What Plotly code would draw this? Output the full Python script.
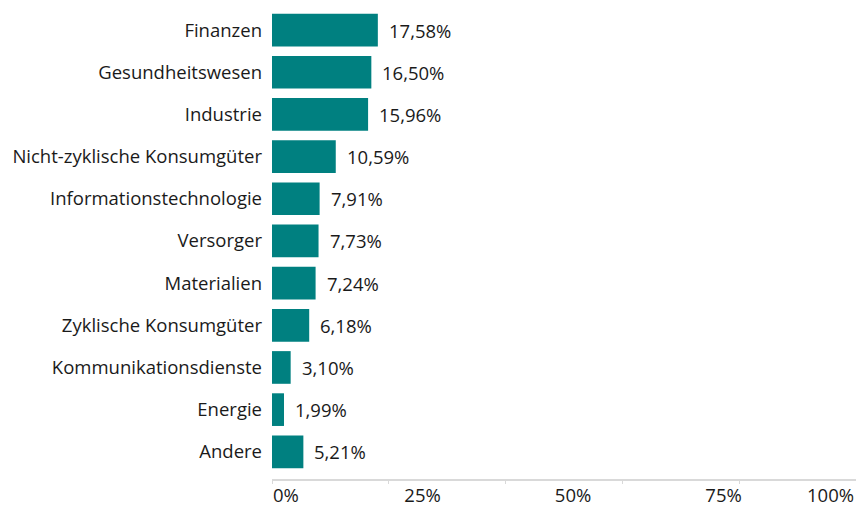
import plotly.graph_objects as go

# Sector weights in percent
sectors = [
    "Finanzen",
    "Gesundheitswesen",
    "Industrie",
    "Nicht-zyklische Konsumgüter",
    "Informationstechnologie",
    "Versorger",
    "Materialien",
    "Zyklische Konsumgüter",
    "Kommunikationsdienste",
    "Energie",
    "Andere",
]
weights = [17.58, 16.50, 15.96, 10.59, 7.91, 7.73, 7.24, 6.18, 3.10, 1.99, 5.21]

tick_values = [0, 25, 50, 75, 100]
tick_labels = ["0%", "25%", "50%", "75%", "100%"]

FONT = "Open Sans"
FS = 18.5
TEXT = "#1a1a1a"
BAR = "#008080"
AXIS = "#d9d9d9"

shares = [w / 100 for w in weights]
value_text = [f"{w:.2f}".replace(".", ",") + "%" for w in weights]

fig = go.Figure(
    go.Bar(
        x=shares,
        y=sectors,
        orientation="h",
        marker=dict(color=BAR, line=dict(width=0)),
        hoverinfo="skip",
    )
)

# value labels right of each bar
for s, cat, txt in zip(shares, sectors, value_text):
    fig.add_annotation(
        x=s, y=cat, text=txt, showarrow=False,
        xanchor="left", yanchor="middle", xshift=9,
        font=dict(family=FONT, size=FS, color=TEXT),
    )

x_max = 0.97
inner_vals = [v / 100 for v in tick_values[1:-1]]
inner_text = tick_labels[1:-1]

# edge labels are pulled inward so they stay inside the plot width
fig.add_annotation(
    x=tick_values[0] / 100, xref="x", y=0, yref="paper", yshift=-15,
    text=tick_labels[0], showarrow=False, xanchor="left", yanchor="middle",
    borderpad=0, font=dict(family=FONT, size=FS, color=TEXT),
)
fig.add_annotation(
    x=1, xref="paper", y=0, yref="paper", yshift=-15, xshift=-1,
    text=tick_labels[-1], showarrow=False, xanchor="right", yanchor="middle",
    borderpad=0, font=dict(family=FONT, size=FS, color=TEXT),
)

fig.update_layout(
    width=856,
    height=507,
    margin=dict(l=272, r=0, t=9, b=23),
    paper_bgcolor="white",
    plot_bgcolor="white",
    bargap=0.225,
    showlegend=False,
    font=dict(family=FONT, size=FS, color=TEXT),
)

fig.update_xaxes(
    range=[0, x_max],
    tickvals=inner_vals,
    ticktext=inner_text,
    ticks="",
    showgrid=False,
    zeroline=False,
    showline=True,
    linecolor=AXIS,
    linewidth=2,
    tickfont=dict(family=FONT, size=FS, color=TEXT),
    ticklabelstandoff=-1,
    minor=dict(
        tickmode="linear", tick0=0, dtick=x_max / 5,
        ticks="outside", ticklen=3, tickwidth=1, tickcolor=AXIS,
        showgrid=False,
    ),
    fixedrange=True,
)

fig.update_yaxes(
    categoryorder="array",
    categoryarray=sectors,
    range=[len(sectors) - 0.355, -0.5],
    ticks="",
    showgrid=False,
    zeroline=False,
    showline=False,
    tickfont=dict(family=FONT, size=FS, color=TEXT),
    ticklabelstandoff=9,
    fixedrange=True,
)

fig.write_html("out.html", config={"displayModeBar": False})
